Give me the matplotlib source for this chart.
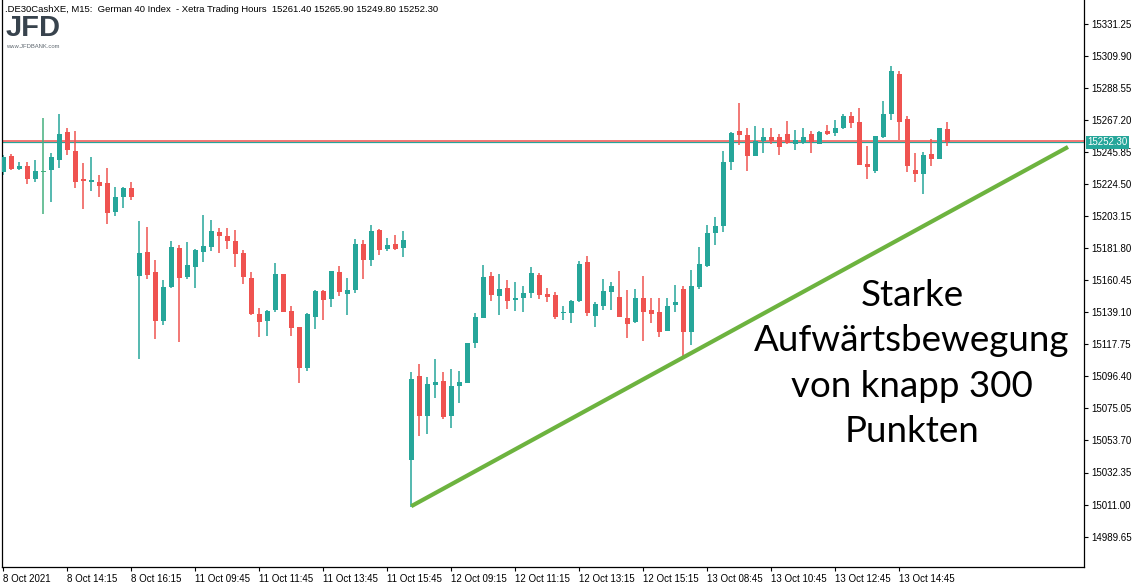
import matplotlib
matplotlib.use('Agg')
import matplotlib.pyplot as plt
import matplotlib.transforms as mtransforms

# ---------------- data (M15 candles) ----------------
opens = [15232.7, 15243.2, 15234.5, 15236.5, 15228.1, 15232.3, 15234.1, 15240.7, 15259.2, 15246.5,
         15227.9, 15226.1, 15225.9, 15225.2, 15206.1, 15216.1, 15221.9, 15163.4, 15179.2, 15165.9,
         15133.4, 15155.9, 15181.9, 15162.7, 15169.4, 15179.4, 15182.7, 15192.5, 15189.9, 15186.5,
         15178.5, 15161.9, 15137.9, 15133.4, 15140.7, 15164.5, 15139.9, 15129.2, 15102.1, 15136.1,
         15153.2, 15148.1, 15165.9, 15151.4, 15154.1, 15184.5, 15174.1, 15193.9, 15181.4, 15184.5,
         15182.1, 15040.5, 15096.5, 15070.1, 15090.7, 15093.2, 15070.1, 15090.1, 15092.3, 15118.7,
         15135.4, 15163.2, 15150.1, 15155.2, 15147.4, 15148.7, 15152.1, 15163.9, 15151.2, 15150.5,
         15138.3, 15138.7, 15146.5, 15172.5, 15136.7, 15143.4, 15152.7, 15149.2, 15135.2, 15132.7,
         15148.5, 15140.5, 15139.2, 15126.7, 15144.1, 15154.5, 15126.1, 15156.1, 15169.9, 15191.9,
         15196.7, 15239.4, 15259.9, 15257.2, 15243.4, 15253.2, 15255.9, 15255.9, 15257.9, 15251.4,
         15252.7, 15257.9, 15251.4, 15259.9, 15258.5, 15261.9, 15269.9, 15265.9, 15237.9, 15233.4,
         15256.1, 15271.4, 15297.9, 15267.9, 15233.9, 15231.4, 15244.5, 15241.4, 15261.4]
highs = [15243.9, 15244.5, 15239.2, 15239.2, 15240.5, 15268.5, 15245.2, 15271.2, 15261.9, 15259.9,
         15238.5, 15242.5, 15230.5, 15235.2, 15222.5, 15222.5, 15225.9, 15199.9, 15195.9, 15173.9,
         15160.5, 15186.5, 15183.9, 15185.9, 15181.2, 15203.9, 15200.5, 15195.2, 15195.2, 15193.9,
         15180.5, 15165.9, 15141.9, 15140.5, 15171.9, 15164.6, 15143.2, 15129.3, 15138.5, 15153.9,
         15153.9, 15166.6, 15169.9, 15161.9, 15187.9, 15187.2, 15197.2, 15194.5, 15188.5, 15190.5,
         15193.2, 15099.2, 15104.5, 15095.9, 15107.9, 15099.2, 15101.2, 15099.9, 15118.6, 15138.5,
         15170.5, 15165.9, 15164.5, 15160.5, 15159.2, 15156.5, 15169.2, 15165.2, 15155.2, 15152.5,
         15143.2, 15147.2, 15173.2, 15176.5, 15145.9, 15161.2, 15159.2, 15166.5, 15153.9, 15154.5,
         15163.2, 15148.5, 15148.5, 15148.5, 15157.2, 15156.5, 15167.2, 15182.5, 15197.2, 15202.5,
         15246.5, 15259.2, 15278.5, 15261.9, 15263.2, 15261.9, 15261.9, 15257.9, 15266.5, 15260.5,
         15261.9, 15259.9, 15259.9, 15263.9, 15267.2, 15271.2, 15272.5, 15275.2, 15249.9, 15256.6,
         15279.9, 15303.2, 15299.9, 15269.9, 15245.2, 15245.9, 15254.5, 15262.0, 15265.9]
lows = [15230.5, 15233.9, 15233.9, 15224.7, 15226.1, 15204.7, 15212.7, 15235.4, 15244.1, 15222.1,
        15208.1, 15220.1, 15216.1, 15198.1, 15203.4, 15208.7, 15214.1, 15108.1, 15161.4, 15121.4,
        15130.7, 15155.4, 15119.4, 15161.4, 15155.4, 15172.7, 15180.1, 15178.7, 15181.4, 15169.4,
        15158.1, 15137.2, 15122.7, 15123.4, 15139.4, 15139.3, 15123.4, 15092.1, 15100.1, 15128.1,
        15134.1, 15142.7, 15150.1, 15137.4, 15152.1, 15161.4, 15170.1, 15177.4, 15180.1, 15180.7,
        15176.1, 15009.4, 15056.7, 15058.1, 15082.1, 15068.1, 15062.1, 15078.7, 15091.7, 15115.4,
        15135.3, 15146.7, 15137.4, 15141.4, 15140.1, 15139.4, 15148.7, 15148.1, 15146.1, 15134.7,
        15134.1, 15132.1, 15145.9, 15136.7, 15129.4, 15140.7, 15140.7, 15136.0, 15122.1, 15132.1,
        15120.1, 15132.1, 15122.7, 15126.6, 15139.4, 15109.4, 15117.2, 15154.7, 15169.2, 15183.9,
        15192.5, 15233.9, 15250.5, 15233.4, 15243.3, 15245.4, 15251.4, 15244.1, 15251.4, 15247.4,
        15251.4, 15245.4, 15251.3, 15257.4, 15256.5, 15261.2, 15261.9, 15237.1, 15228.1, 15232.1,
        15255.4, 15267.2, 15253.9, 15232.7, 15226.1, 15218.1, 15236.7, 15241.3, 15249.8]
closes = [15242.3, 15234.7, 15236.5, 15228.1, 15233.2, 15232.3, 15242.5, 15257.9, 15247.4, 15226.1,
          15226.7, 15227.2, 15223.4, 15205.4, 15215.9, 15221.9, 15216.1, 15178.5, 15164.1, 15133.4,
          15155.9, 15182.5, 15162.1, 15170.5, 15180.5, 15183.2, 15193.2, 15190.1, 15186.7, 15178.1,
          15162.7, 15137.9, 15132.7, 15139.9, 15164.5, 15139.4, 15128.7, 15102.1, 15137.9, 15153.2,
          15147.4, 15166.5, 15152.7, 15153.9, 15184.5, 15174.1, 15193.2, 15180.7, 15183.9, 15181.4,
          15187.2, 15094.5, 15070.1, 15091.2, 15092.5, 15069.4, 15089.9, 15092.5, 15118.5, 15135.9,
          15162.5, 15150.7, 15154.5, 15146.7, 15148.5, 15151.9, 15165.2, 15150.7, 15149.4, 15136.1,
          15139.4, 15146.5, 15171.2, 15138.7, 15144.5, 15153.2, 15156.5, 15136.1, 15131.4, 15148.5,
          15139.4, 15138.1, 15126.1, 15143.2, 15145.9, 15126.1, 15156.5, 15171.2, 15191.9, 15196.5,
          15239.2, 15258.5, 15257.4, 15243.4, 15253.2, 15255.9, 15253.4, 15249.4, 15252.1, 15253.9,
          15255.9, 15252.7, 15259.2, 15258.1, 15261.9, 15269.9, 15265.2, 15237.2, 15236.1, 15256.5,
          15271.2, 15299.9, 15266.1, 15236.7, 15231.4, 15243.9, 15241.4, 15261.9, 15252.3]

tick_idx = [0, 8, 16, 24, 32, 40, 48, 56, 64, 72, 80, 88, 96, 104, 112]
tick_labels = ["8 Oct 2021", "8 Oct 14:15", "8 Oct 16:15", "11 Oct 09:45", "11 Oct 11:45",
               "11 Oct 13:45", "11 Oct 15:45", "12 Oct 09:15", "12 Oct 11:15", "12 Oct 13:15",
               "12 Oct 15:15", "13 Oct 08:45", "13 Oct 10:45", "13 Oct 12:45", "13 Oct 14:45"]
price_ticks = [15331.25, 15309.90, 15288.55, 15267.20, 15245.85, 15224.50, 15203.15, 15181.80,
               15160.45, 15139.10, 15117.75, 15096.40, 15075.05, 15053.70, 15032.35, 15011.00,
               14989.65]
bid_price = 15252.30
ask_price = 15253.50
trend_x = [51, 133.1]
trend_y = [15009.9, 15249.2]
header = ".DE30CashXE, M15:  German 40 Index  - Xetra Trading Hours  15261.40 15265.90 15249.80 15252.30"
annotation = "Starke\nAufwärtsbewegung\nvon knapp 300\nPunkten"

UP = '#26a69a'
DOWN = '#ef5350'
DOJI = '#45b07f'
TREND = '#6db33f'

# ---------------- figure ----------------
W, H = 1142, 588
fig = plt.figure(figsize=(W / 100, H / 100), dpi=100)
fig.patch.set_facecolor('white')
ax = fig.add_axes([2 / W, 21 / H, 1082 / W, 567 / H])
ax.set_facecolor('white')
ax.set_xlim(-0.16, 135.1)
ax.set_ylim(14969.4, 15347.1)

# bid / ask lines
ax.axhline(bid_price, color=UP, lw=0.9, zorder=1)
ax.axhline(ask_price, color=DOWN, lw=1.1, zorder=1.5)

xs = list(range(len(opens)))
cols = []
for o, c in zip(opens, closes):
    if c > o:
        cols.append(UP)
    elif c < o:
        cols.append(DOWN)
    else:
        cols.append(DOJI)

ax.vlines(xs, lows, highs, colors=cols, lw=1.1, zorder=2)
bottoms = [min(o, c) for o, c in zip(opens, closes)]
heights = [max(abs(c - o), 0.8) for o, c in zip(opens, closes)]
ax.bar(xs, heights, bottom=bottoms, width=0.63, color=cols, linewidth=0, zorder=3)

# trend line
ax.plot(trend_x, trend_y, color=TREND, lw=3.0, solid_capstyle='butt', zorder=4)

# annotation
ax.text(113.6, 15105.0, annotation, ha='center', va='center', fontsize=26.5,
        family=['Lato', 'DejaVu Sans'], color='black', linespacing=1.45, zorder=5)

# spines
for s in ['left', 'right', 'bottom']:
    ax.spines[s].set_color('black')
    ax.spines[s].set_linewidth(0.9)
ax.spines['top'].set_visible(False)

# axes ticks
ax.yaxis.tick_right()
ax.set_yticks(price_ticks)
ax.set_yticklabels([f"{p:.2f}" for p in price_ticks])
ax.set_xticks(tick_idx)
ax.set_xticklabels(tick_labels, ha='left')
ax.tick_params(axis='both', direction='out', length=3, width=0.8, labelsize=7, pad=2,
               colors='black')
for lab in ax.get_xticklabels() + ax.get_yticklabels():
    lab.set_family(['Liberation Sans', 'DejaVu Sans'])

# last price label
trans = mtransforms.blended_transform_factory(ax.transAxes, ax.transData)
ax.text(1.003, bid_price, f"{bid_price:.2f}", transform=trans, ha='left', va='center',
        fontsize=7, color='white', family=['Liberation Sans', 'DejaVu Sans'],
        bbox=dict(boxstyle='square,pad=0.15', fc=UP, ec='none'), zorder=6, clip_on=False)

# header and logo
fig.text(5 / W, 1 - 10 / H, header, fontsize=6.8, va='center', ha='left',
         family=['Liberation Sans', 'DejaVu Sans'], color='black')
fig.text(6 / W, 1 - 28 / H, "JFD", fontsize=21, weight='bold', va='center', ha='left',
         family=['Liberation Sans', 'DejaVu Sans'], color='#38434d')
fig.text(6 / W, 1 - 47 / H, "www.JFDBANK.com", fontsize=4.2, va='center', ha='left',
         family=['Liberation Sans', 'DejaVu Sans'], color='#5f6870')

fig.savefig('out.png', dpi=100, facecolor='white')
